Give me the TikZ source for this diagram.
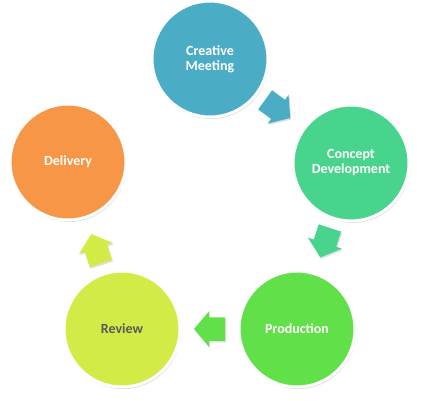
\documentclass[tikz,border=0pt]{standalone}
\usepackage{fontspec}
\setmainfont{Carlito}
\usepackage{xcolor}
\usepackage{tikz}
\usetikzlibrary{shadows,calc}
\definecolor{meetblue}{HTML}{4BACC6}
\definecolor{conceptgreen}{HTML}{49D48E}
\definecolor{prodgreen}{HTML}{62E04A}
\definecolor{reviewlime}{HTML}{D4EB47}
\definecolor{deliveryorange}{HTML}{F79646}
\definecolor{reviewtext}{HTML}{595959}
\tikzset{
    % Phase styles
    phase/.style={circle, draw=white, line width=3pt, minimum size=116pt, inner sep=0pt,
        align=center, text=white, font=\fontsize{14}{15}\selectfont\bfseries,
        drop shadow={opacity=0.3, shadow xshift=1pt, shadow yshift=-2pt}},
    meeting/.style={phase, fill=meetblue},
    concept/.style={phase, fill=conceptgreen},
    production/.style={phase, fill=prodgreen},
    review/.style={phase, fill=reviewlime, text=reviewtext},
    delivery/.style={phase, fill=deliveryorange},
    % Block arrow
    blockarrow/.pic={
        \fill[pic actions, drop shadow={opacity=0.25, shadow xshift=1pt, shadow yshift=-1.5pt}]
            (-15.5,-11.75) -- (0.5,-11.75) -- (0.5,-17.8) -- (15.5,0)
            -- (0.5,17.8) -- (0.5,11.75) -- (-15.5,11.75) -- cycle;
    }
}
\begin{document}
\begin{tikzpicture}[x=1pt, y=-1pt]
\useasboundingbox (0,0) rectangle (424,400);

% Phase nodes
\node[meeting] (meet) at (210,59) {Creative\\Meeting};
\node[concept] (concept) at (351,163) {Concept\\Development};
\node[production] (prod) at (297,329) {Production};
\node[review] (review) at (122,329) {Review};
\node[delivery] (deliver) at (68,162) {Delivery};

% Flow arrows
\pic[fill=meetblue, rotate=-36] (a1) at ($(meet)!0.48!(concept)$) {blockarrow};
\pic[fill=conceptgreen, rotate=-108] (a2) at ($(concept)!0.48!(prod)$) {blockarrow};
\pic[fill=prodgreen, rotate=180] (a3) at ($(prod)!0.5!(review)$) {blockarrow};
\pic[fill=reviewlime, rotate=108] (a4) at ($(review)!0.48!(deliver)$) {blockarrow};
\end{tikzpicture}
\end{document}
